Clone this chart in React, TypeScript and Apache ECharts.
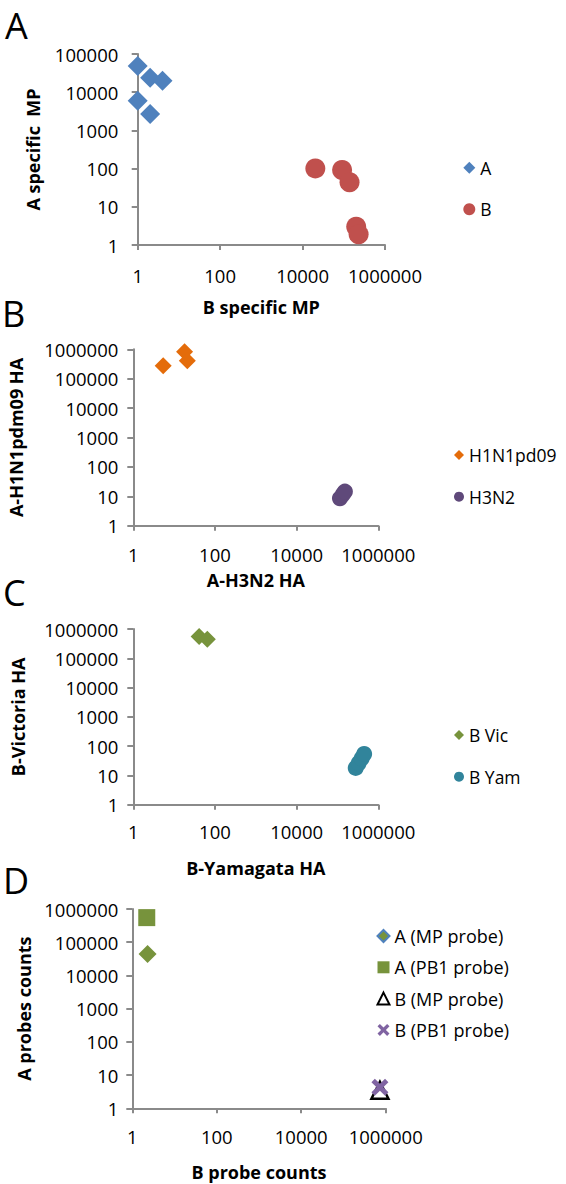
import React, { useEffect, useRef } from 'react';
import * as echarts from 'echarts';

const FONT = '"Open Sans", "Noto Sans", sans-serif';

// tick / label values
const xTickValues = [1, 100, 10000, 1000000];
const yTickValuesA = [1, 10, 100, 1000, 10000, 100000];
const yTickValues = [1, 10, 100, 1000, 10000, 100000, 1000000];

// Panel A: A specific MP (y) vs B specific MP (x)
const panelA_A = [[1, 48500], [2, 24000], [4, 20000], [1, 6000], [2, 2700]];
const panelA_B = [[20400, 101], [91000, 92], [138000, 44], [200000, 3], [229000, 1.9]];
// Panel B: A-H1N1pdm09 HA (y) vs A-H3N2 HA (x)
const panelB_H1 = [[5.4, 277000], [18, 830000], [21, 410000]];
const panelB_H3 = [[115000, 8.5], [135000, 11.5], [152000, 14.5]];
// Panel C: B-Victoria HA (y) vs B-Yamagata HA (x)
const panelC_Vic = [[41, 550000], [65, 445000]];
const panelC_Yam = [[280000, 18], [330000, 26], [390000, 38], [450000, 54]];
// Panel D: A probes counts (y) vs B probe counts (x)
const panelD_AMP = [[2.3, 44000]];
const panelD_APB1 = [[2.2, 550000]];
const panelD_BMP = [[730000, 3.5]];
const panelD_BPB1 = [[730000, 4.3]];

const AXIS_COLOR = '#8a8a8a';
const lineStyle = { color: AXIS_COLOR, width: 2 };
const fmt = (v: number) => String(Math.round(v));

function makeX(gridIndex: number, name: string, nameGap: number, margin: number) {
  return {
    type: 'log', logBase: 10, gridIndex, min: 1, max: 1000000,
    name, nameLocation: 'middle', nameGap,
    nameTextStyle: { fontFamily: FONT, fontWeight: 'bold', fontSize: 18, lineHeight: 18, color: '#000' },
    axisLine: { show: true, onZero: false, lineStyle },
    axisTick: { show: true, inside: false, length: 5, lineStyle, customValues: xTickValues },
    axisLabel: { show: true, margin, fontFamily: FONT, fontSize: 18.5, lineHeight: 18, color: '#000', formatter: fmt, customValues: xTickValues },
    splitLine: { show: false }, minorTick: { show: false }, minorSplitLine: { show: false },
  };
}

function makeY(gridIndex: number, name: string, nameGap: number, margin: number, max: number, ticks: number[]) {
  return {
    type: 'log', logBase: 10, gridIndex, min: 1, max,
    name, nameLocation: 'middle', nameGap, nameRotate: 90,
    nameTextStyle: { fontFamily: FONT, fontWeight: 'bold', fontSize: 18, lineHeight: 18, color: '#000' },
    axisLine: { show: true, onZero: false, lineStyle },
    axisTick: { show: true, inside: false, length: 6, lineStyle, customValues: ticks },
    axisLabel: { show: true, margin, fontFamily: FONT, fontSize: 18.5, color: '#000', formatter: fmt, customValues: ticks },
    splitLine: { show: false }, minorTick: { show: false }, minorSplitLine: { show: false },
  };
}

const X_PATH = 'path://M0,2L2,0L5,3L8,0L10,2L7,5L10,8L8,10L5,7L2,10L0,8L3,5Z';

function legend(left: number, top: number, size: number, gap: number, fontSize: number, data: any[]) {
  return {
    orient: 'vertical', left, top, padding: 0, itemGap: gap,
    itemWidth: size, itemHeight: size,
    textStyle: { fontFamily: FONT, fontSize, lineHeight: 20, color: '#000' },
    data,
  };
}

function letter(t: string, x: number, y: number) {
  return {
    type: 'text', x, y,
    style: { text: t, fill: '#000', fontFamily: FONT, fontSize: 36, lineHeight: 36, textVerticalAlign: 'middle', verticalAlign: 'middle' },
  };
}

export default function App() {
  const ref = useRef<HTMLDivElement>(null);
  useEffect(() => {
    if (!ref.current) return;
    const chart = echarts.init(ref.current, undefined, { renderer: 'svg' });
    const option: any = {
      animation: false,
      backgroundColor: '#fff',
      textStyle: { fontFamily: FONT },
      grid: [
        { left: 137.7, top: 54, width: 247.3, height: 191, outerBoundsMode: 'none' },
        { left: 133.3, top: 349.3, width: 245, height: 176.4, outerBoundsMode: 'none' },
        { left: 133.3, top: 629, width: 245, height: 175.7, outerBoundsMode: 'none' },
        { left: 132.3, top: 909, width: 253.4, height: 199.3, outerBoundsMode: 'none' },
      ],
      xAxis: [
        makeX(0, 'B specific MP', 52.7, 21),
        makeX(1, 'A-H3N2 HA', 45.3, 20),
        makeX(2, 'B-Yamagata HA', 54.3, 18),
        makeX(3, 'B probe counts', 54.4, 19),
      ],
      yAxis: [
        makeY(0, 'A specific  MP', 95.7, 19.4, 100000, yTickValuesA),
        makeY(1, 'A-H1N1pdm09 HA', 108.8, 15, 1000000, yTickValues),
        makeY(2, 'B-Victoria HA', 106.3, 15, 1000000, yTickValues),
        makeY(3, 'A probes counts', 99.3, 14, 1000000, yTickValues),
      ],
      legend: [
        legend(463.3, 157.7, 12, 21.6, 17.5, ['A', 'B']),
        legend(454, 445, 10, 21.7, 17.5, ['H1N1pd09', 'H3N2']),
        legend(454, 725, 10, 21.7, 17.5, ['B Vic', 'B Yam']),
        legend(376.5, 926, 12, 11.3, 18, [
          { name: 'A (MP probe)', itemStyle: { color: '#77933C', borderColor: '#4F81BD', borderWidth: 2 } },
          'A (PB1 probe)', 'B (MP probe)', 'B (PB1 probe)',
        ]),
      ],
      graphic: [letter('A', 5, 25), letter('B', 2, 313), letter('C', 3, 592), letter('D', 3, 880)],
      series: [
        { type: 'scatter', name: 'A', xAxisIndex: 0, yAxisIndex: 0, symbol: 'diamond', symbolSize: 20, itemStyle: { color: '#4F81BD', opacity: 1 }, data: panelA_A },
        { type: 'scatter', name: 'B', xAxisIndex: 0, yAxisIndex: 0, symbol: 'circle', symbolSize: 20, itemStyle: { color: '#C0504D', opacity: 1 }, data: panelA_B },
        { type: 'scatter', name: 'H1N1pd09', xAxisIndex: 1, yAxisIndex: 1, symbol: 'diamond', symbolSize: 17, itemStyle: { color: '#E46C0A', opacity: 1 }, data: panelB_H1 },
        { type: 'scatter', name: 'H3N2', xAxisIndex: 1, yAxisIndex: 1, symbol: 'circle', symbolSize: 16, itemStyle: { color: '#5F497A', opacity: 1 }, data: panelB_H3 },
        { type: 'scatter', name: 'B Vic', xAxisIndex: 2, yAxisIndex: 2, symbol: 'diamond', symbolSize: 17, itemStyle: { color: '#77933C', opacity: 1 }, data: panelC_Vic },
        { type: 'scatter', name: 'B Yam', xAxisIndex: 2, yAxisIndex: 2, symbol: 'circle', symbolSize: 16, itemStyle: { color: '#31849B', opacity: 1 }, data: panelC_Yam },
        { type: 'scatter', name: 'A (MP probe)', xAxisIndex: 3, yAxisIndex: 3, symbol: 'diamond', symbolSize: 18, itemStyle: { color: '#77933C', opacity: 1 }, data: panelD_AMP },
        { type: 'scatter', name: 'A (PB1 probe)', xAxisIndex: 3, yAxisIndex: 3, symbol: 'rect', symbolSize: 17, itemStyle: { color: '#77933C', opacity: 1 }, data: panelD_APB1 },
        { type: 'scatter', name: 'B (MP probe)', xAxisIndex: 3, yAxisIndex: 3, symbol: 'triangle', symbolSize: 17, itemStyle: { color: '#ffffff', borderColor: '#000000', borderWidth: 2.5, opacity: 1 }, data: panelD_BMP },
        { type: 'scatter', name: 'B (PB1 probe)', xAxisIndex: 3, yAxisIndex: 3, symbol: X_PATH, symbolSize: 17, itemStyle: { color: '#8064A2', opacity: 1 }, data: panelD_BPB1 },
      ],
    };
    chart.setOption(option);
    return () => chart.dispose();
  }, []);
  return (
    <div
      ref={ref}
      style={{ position: 'absolute', left: 0, top: 0, width: 566, height: 1184, background: '#fff' }}
    />
  );
}
